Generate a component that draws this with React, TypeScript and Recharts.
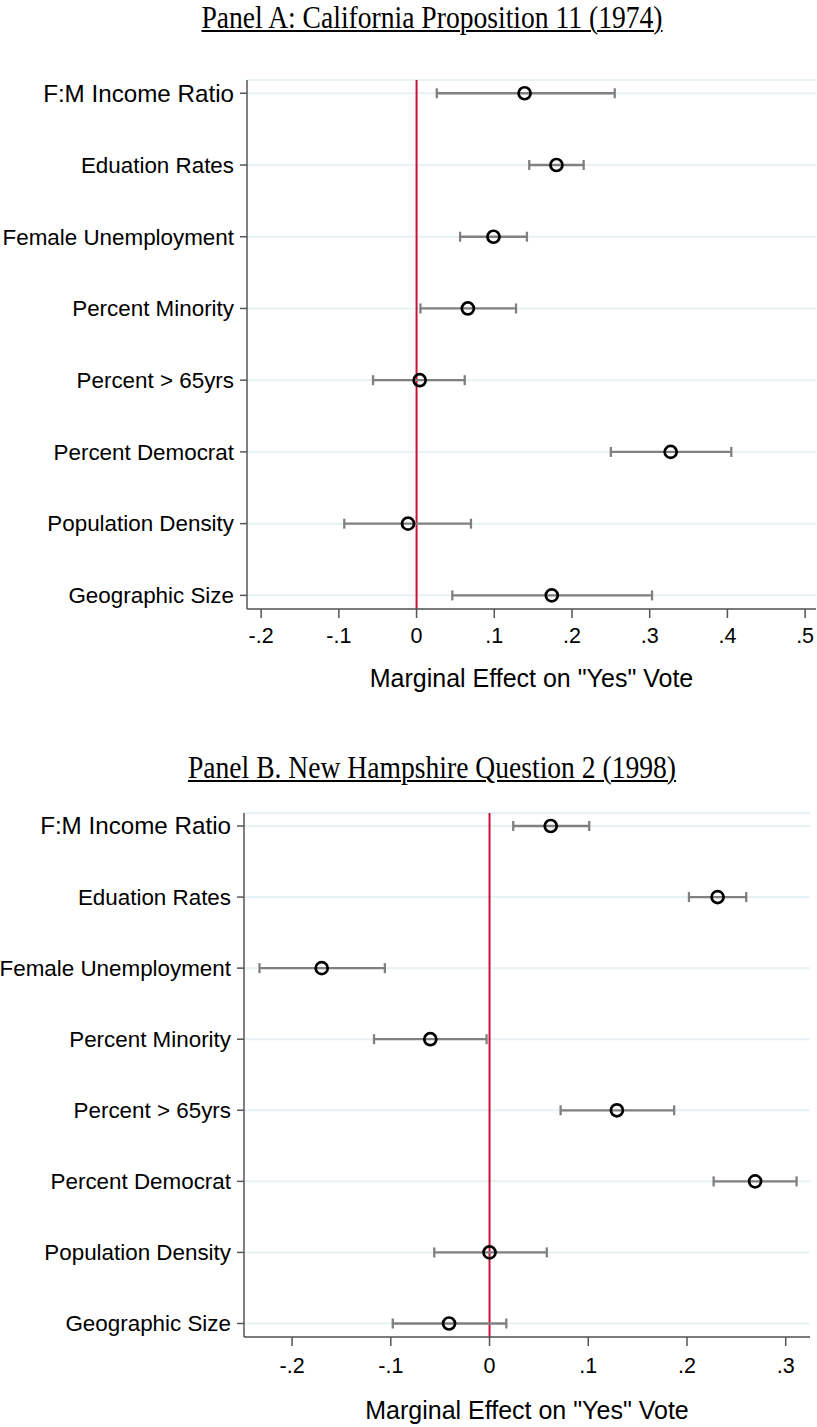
import React from 'react'
import {
  ScatterChart,
  Scatter,
  ErrorBar,
  XAxis,
  YAxis,
  CartesianGrid,
  ReferenceLine,
} from 'recharts'

const labels = [
  'F:M Income Ratio',
  'Eduation Rates',
  'Female Unemployment',
  'Percent Minority',
  'Percent > 65yrs',
  'Percent Democrat',
  'Population Density',
  'Geographic Size',
]

// Panel A: California Proposition 11 (1974)
const estA = [0.139, 0.18, 0.099, 0.066, 0.004, 0.327, -0.011, 0.174]
const lowA = [0.026, 0.145, 0.056, 0.005, -0.056, 0.25, -0.093, 0.046]
const highA = [0.255, 0.215, 0.142, 0.128, 0.062, 0.405, 0.07, 0.303]
const ticksA = [-0.2, -0.1, 0, 0.1, 0.2, 0.3, 0.4, 0.5]

// Panel B: New Hampshire Question 2 (1998)
const estB = [0.062, 0.231, -0.17, -0.06, 0.129, 0.269, 0.0, -0.041]
const lowB = [0.024, 0.202, -0.233, -0.117, 0.072, 0.227, -0.056, -0.098]
const highB = [0.101, 0.26, -0.106, -0.003, 0.187, 0.311, 0.058, 0.017]
const ticksB = [-0.2, -0.1, 0, 0.1, 0.2, 0.3]

const rows = [1, 2, 3, 4, 5, 6, 7, 8]

const SANS = '"Liberation Sans", Arial, sans-serif'
const SERIF = '"Liberation Serif", "Times New Roman", serif'

const fmtTick = (v: number) => {
  if (Math.abs(v) < 1e-9) return '0'
  const s = Math.abs(v).toFixed(1).replace(/^0/, '')
  return v < 0 ? '-' + s : s
}

const build = (est: number[], low: number[], high: number[]) =>
  est.map((e, i) => ({ row: i + 1, est: e, err: [e - low[i], high[i] - e] }))

function RowTick(props: any) {
  const { x, y, payload } = props
  const label = labels[payload.value - 1]
  const big = payload.value === 1
  return (
    <text
      x={x}
      y={y}
      dy="0.35em"
      textAnchor="end"
      fontFamily={SANS}
      fontSize={big ? 24.2 : 22.4}
      fill="#000"
    >
      {label}
    </text>
  )
}

const Dot = (props: any) => (
  <circle cx={props.cx} cy={props.cy} r={6} fill="none" stroke="#000" strokeWidth={2.7} />
)

type PanelProps = {
  top: number
  height: number
  yWidth: number
  right: number
  domainX: [number, number]
  domainY: [number, number]
  ticks: number[]
  data: { row: number; est: number; err: number[] }[]
  tickMargin: number
  labelOffset: number
}

function Panel(p: PanelProps) {
  return (
    <div style={{ position: 'absolute', left: 0, top: p.top }}>
      <ScatterChart
        width={817}
        height={p.height}
        margin={{ top: 20, right: p.right, left: 0, bottom: 0 }}
      >
        <CartesianGrid vertical={false} stroke="#e8f1f3" strokeWidth={2} />
        <XAxis
          type="number"
          dataKey="est"
          domain={p.domainX}
          ticks={p.ticks}
          tickFormatter={fmtTick}
          allowDataOverflow
          height={90}
          tickSize={9}
          tickMargin={p.tickMargin}
          stroke="#555"
          strokeWidth={1.5}
          tick={{ fontFamily: SANS, fontSize: 21.5, fill: '#000' }}
          label={{
            value: 'Marginal Effect on "Yes" Vote',
            position: 'insideBottom',
            offset: p.labelOffset,
            style: { fontFamily: SANS, fontSize: 25, fill: '#000' },
          }}
        />
        <YAxis
          type="number"
          dataKey="row"
          domain={p.domainY}
          ticks={rows}
          reversed
          allowDataOverflow
          width={p.yWidth}
          tickSize={7}
          tickMargin={6}
          stroke="#555"
          strokeWidth={1.5}
          tick={<RowTick />}
        />
        <ReferenceLine x={0} stroke="#cc1139" strokeWidth={2} />
        <Scatter data={p.data} shape={<Dot />} isAnimationActive={false}>
          <ErrorBar
            dataKey="err"
            direction="x"
            width={5}
            stroke="#808080"
            strokeWidth={2.3}
            isAnimationActive={false}
          />
        </Scatter>
      </ScatterChart>
    </div>
  )
}

const titleStyle: React.CSSProperties = {
  position: 'absolute',
  left: 0,
  width: 864,
  textAlign: 'center',
  fontFamily: SERIF,
  fontSize: 31,
  lineHeight: '36px',
  color: '#000',
  textDecoration: 'underline',
  textDecorationThickness: 2,
  textUnderlineOffset: 2,
  whiteSpace: 'nowrap',
  transform: 'scaleX(0.89)',
  transformOrigin: '432px 0',
}

export default function App() {
  return (
    <div
      style={{
        position: 'absolute',
        left: 0,
        top: 0,
        width: 817,
        height: 1427,
        background: '#fff',
        overflow: 'hidden',
      }}
    >
      <div style={{ ...titleStyle, top: 0 }}>Panel A: California Proposition 11 (1974)</div>
      <Panel
        top={60}
        height={639}
        yWidth={247}
        right={1}
        domainX={[-0.2182, 0.514]}
        domainY={[0.815, 8.19]}
        ticks={ticksA}
        data={build(estA, lowA, highA)}
        tickMargin={10}
        labelOffset={12}
      />
      <div style={{ ...titleStyle, top: 750 }}>Panel B. New Hampshire Question 2 (1998)</div>
      <Panel
        top={793}
        height={634}
        yWidth={244}
        right={7}
        domainX={[-0.2487, 0.3246]}
        domainY={[0.817, 8.19]}
        ticks={ticksB}
        data={build(estB, lowB, highB)}
        tickMargin={12}
        labelOffset={8}
      />
    </div>
  )
}
